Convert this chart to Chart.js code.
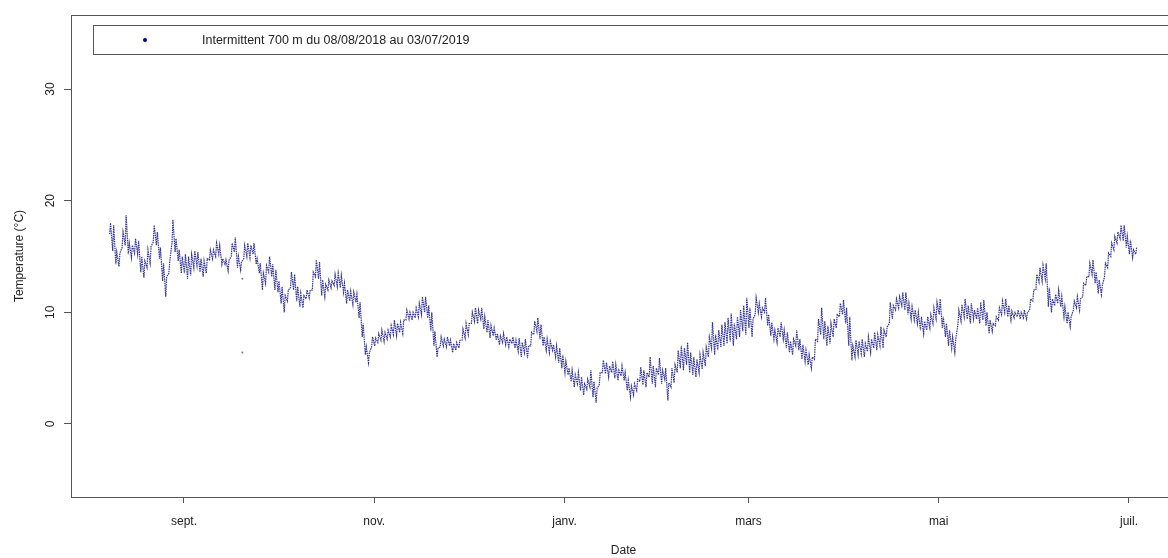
<!DOCTYPE html>
<html>
<head>
<meta charset="utf-8">
<script src="https://cdn.jsdelivr.net/npm/chart.js@4.4.1/dist/chart.umd.min.js"></script>
<style>
  html, body { margin: 0; padding: 0; background: #fff; overflow: hidden; }
  #cadre { width: 1168px; height: 558px; overflow: hidden; }
</style>
</head>
<body>
<div id="cadre"><canvas id="graficoTemp" width="1186" height="558"></canvas></div>
<script>
// releves : min puis max de chaque jour (°C)
const aout2018 = [17.0,18.0, 15.5,17.8, 14.3,15.4, 14.1,15.3, 15.8,17.2, 16.0,18.7, 15.2,16.2, 14.9,16.0, 15.3,16.6, 15.2,16.4, 13.6,15.0, 13.1,14.6, 14.0,15.6, 14.4,15.9, 16.3,17.8, 16.0,17.2, 14.8,15.8, 12.8,14.4, 11.4,13.2, 13.5,14.6, 16.2,18.3, 15.4,16.6, 14.6,15.6, 13.5,15.0]
const sept2018 = [13.5,15.2, 13.0,15.0, 13.3,15.2, 14.0,15.5, 14.2,15.4, 13.6,14.8, 13.2,14.6, 13.5,14.8, 14.7,15.6, 14.8,15.6, 15.0,16.2, 15.2,16.0, 14.3,14.8, 14.3,14.7, 13.7,14.7, 15.0,16.2, 15.4,16.7, 14.0,15.0, 13.8,14.5, 14.8,16.0, 15.0,16.2, 14.9,16.0, 15.2,16.2, 14.3,14.8, 13.5,14.4, 12.0,13.5, 12.6,14.2, 13.6,15.0, 13.2,14.3, 12.0,13.8]
const oct2018 = [11.8,12.8, 10.8,12.3, 10.0,11.5, 11.0,12.0, 12.2,13.6, 12.0,13.4, 11.0,12.3, 10.5,11.7, 10.4,11.5, 11.2,12.0, 11.3,12.0, 12.0,13.6, 13.2,14.7, 13.0,14.5, 11.5,12.9, 11.4,12.5, 12.0,12.9, 12.2,12.8, 12.4,13.4, 12.3,13.5, 12.2,13.3, 11.8,12.6, 10.8,12.0, 11.0,11.9, 10.7,11.8, 10.9,11.6, 9.5,10.9, 7.8,9.0, 6.2,6.9, 5.5,6.4, 6.9,7.8]
const nov2018 = [7.0,7.7, 7.3,8.1, 7.5,8.4, 7.4,8.2, 7.6,8.4, 7.8,8.8, 8.0,9.3, 7.9,9.0, 8.2,9.1, 8.1,9.3, 9.3,10.2, 9.4,10.0, 9.3,10.0, 9.5,10.4, 9.6,10.8, 9.8,11.4, 10.0,11.4, 9.5,10.6, 8.3,10.0, 7.0,8.3, 6.0,6.8, 6.9,7.8, 7.0,7.6, 6.9,7.8, 7.0,7.5, 6.4,7.2, 6.6,7.3, 6.8,7.5, 7.5,8.5, 7.7,9.0]
const dec2018 = [8.0,9.0, 9.0,10.0, 9.2,10.4, 9.0,10.2, 9.4,10.4, 8.5,9.6, 8.2,9.3, 7.7,8.8, 7.9,8.6, 7.5,8.1, 7.1,7.9, 7.3,8.1, 7.1,7.8, 6.9,7.6, 7.2,7.8, 6.8,7.5, 6.5,7.7, 6.0,7.3, 6.4,7.6, 5.9,7.0, 7.0,8.2, 8.0,9.2, 8.3,9.5, 7.6,8.9, 7.0,7.8, 6.6,7.6, 6.4,7.4, 6.6,7.1, 6.0,7.0, 5.5,6.8, 5.0,6.2]
const janv2019 = [4.6,5.6, 4.4,5.0, 3.8,4.8, 3.3,4.4, 3.6,4.6, 3.0,4.2, 2.6,3.6, 3.1,4.0, 3.3,4.8, 2.4,3.8, 1.9,3.2, 3.5,4.6, 4.6,5.7, 4.5,5.5, 4.2,5.2, 4.6,5.6, 4.1,5.3, 3.9,4.8, 4.3,5.2, 3.9,4.6, 3.0,3.9, 2.4,3.4, 2.6,3.6, 3.0,4.0, 3.8,5.1, 3.5,4.8, 3.3,4.6, 4.2,6.0, 3.6,5.2, 3.3,5.0, 4.4,5.9]
const fev2019 = [3.6,4.8, 4.0,5.0, 2.1,3.7, 3.3,5.0, 3.7,5.3, 4.6,6.6, 5.0,7.0, 4.8,6.8, 5.3,7.3, 4.6,6.4, 4.4,6.0, 4.2,5.8, 4.6,6.2, 4.9,6.4, 5.2,6.9, 6.0,7.8, 6.8,9.1, 6.2,8.0, 6.6,8.4, 6.9,8.9, 7.0,9.1, 7.2,9.5, 7.4,9.9, 7.0,9.0, 7.6,9.6, 7.8,10.2, 8.3,10.6, 8.0,11.3]
const mars2019 = [8.6,10.4, 7.8,9.4, 9.8,11.3, 10.0,10.8, 9.6,10.4, 10.0,11.3, 8.8,9.8, 7.9,9.1, 7.6,8.4, 7.3,8.6, 7.8,9.1, 7.6,8.4, 6.8,8.2, 6.4,7.4, 6.2,7.6, 7.0,8.4, 6.6,7.6, 5.8,7.1, 5.6,6.6, 5.3,6.2, 5.0,6.0, 5.8,7.6, 7.4,9.4, 8.0,10.4, 7.6,9.2, 7.0,8.8, 7.2,9.0, 7.8,9.4, 8.6,9.8, 9.6,10.8, 9.8,11.1]
const avr2019 = [9.0,10.4, 7.0,9.6, 5.7,7.0, 6.0,7.5, 6.2,7.4, 6.3,7.6, 6.0,7.2, 6.5,7.8, 6.4,7.6, 6.8,8.2, 6.6,8.0, 7.0,8.7, 6.8,8.4, 7.8,8.7, 9.0,10.9, 9.4,10.6, 10.2,11.2, 10.4,11.4, 10.6,11.8, 10.2,11.8, 9.8,10.8, 9.4,10.5, 9.3,10.2, 9.0,10.0, 8.4,9.6, 8.1,9.2, 8.4,9.6, 8.6,9.8, 9.0,10.4, 9.4,10.9]
const mai2019 = [9.8,11.2, 8.6,9.6, 7.8,9.0, 7.0,8.4, 6.8,7.8, 6.4,7.6, 8.9,10.2, 9.2,10.7, 9.6,11.2, 9.4,10.6, 9.0,10.8, 9.4,10.2, 9.4,10.4, 9.0,10.9, 9.3,11.1, 8.8,10.0, 8.1,9.3, 8.3,9.0, 8.8,9.6, 9.3,10.4, 9.8,11.0, 10.0,11.2, 9.6,10.6, 9.3,10.1, 9.5,10.0, 9.6,10.2, 9.4,10.0, 9.5,10.2, 9.4,10.0, 10.2,11.2, 11.0,12.0]
const juin2019 = [12.0,13.4, 12.7,14.0, 12.8,14.2, 13.0,14.4, 10.5,12.2, 10.0,11.2, 10.6,11.6, 10.8,12.0, 10.5,11.4, 9.6,10.5, 9.0,10.0, 8.7,9.6, 10.2,11.0, 10.4,11.4, 10.2,11.2, 11.4,12.6, 12.4,13.2, 13.2,14.4, 13.4,14.7, 12.6,13.6, 11.7,12.9, 11.6,12.4, 13.2,14.4, 14.0,15.3, 15.0,16.2, 15.6,16.8, 16.2,17.2, 16.6,17.8, 16.4,17.8, 15.8,16.8]
const juil2019 = [15.2,16.5, 14.9,15.6, 15.2,15.8]

const debutSerie = '2018-08-08'
const debutsMois = ['2018-08-08', '2018-09-01', '2018-10-01', '2018-11-01', '2018-12-01', '2019-01-01',
  '2019-02-01', '2019-03-01', '2019-04-01', '2019-05-01', '2019-06-01', '2019-07-01']
const releves = [aout2018, sept2018, oct2018, nov2018, dec2018, janv2019, fev2019, mars2019, avr2019, mai2019, juin2019, juil2019]

// deux points isoles visibles vers le 19 septembre
const datesIsoles = ['2018-09-19', '2018-09-19']
const valeursIsoles = [13.0, 6.4]

// axes
const datesTicks = ['2018-09-01', '2018-11-01', '2019-01-01', '2019-03-01', '2019-05-01', '2019-07-01']
const etiquettesMois = ['sept.', 'nov.', 'janv.', 'mars', 'mai', 'juil.']
const ticksY = [0, 10, 20, 30]
const legende = 'Intermittent 700 m du 08/08/2018 au 03/07/2019'

function jour(dateTexte) {
  return (Date.parse(dateTexte) - Date.parse(debutSerie)) / 86400000
}

var points = []
releves.forEach(function(mois, k) {
  var j0 = jour(debutsMois[k])
  for (var i = 0; i < mois.length; i++) {
    points.push({ x: j0 + Math.floor(i / 2) + (i % 2 ? 0.45 : 0.15), y: mois[i] })
  }
})

var isoles = datesIsoles.map(function(d, i) {
  return { x: jour(d) + 0.7, y: valeursIsoles[i] }
})

const police = '"Liberation Sans", Arial, sans-serif'
const gris = '#555555'

// cadre du graphique + legende a la maniere de R
const cadreR = {
  id: 'cadreR',
  afterDraw(chart) {
    const ctx = chart.ctx
    const a = chart.chartArea
    ctx.save()
    ctx.strokeStyle = gris
    ctx.lineWidth = 1
    ctx.strokeRect(Math.round(a.left) + 0.5, Math.round(a.top) + 0.5, Math.round(a.right - a.left), Math.round(a.bottom - a.top))

    ctx.strokeRect(93.5, 25.5, 1200, 29)
    ctx.fillStyle = '#00008b'
    ctx.beginPath()
    ctx.arc(145, 40, 2, 0, Math.PI * 2)
    ctx.fill()
    ctx.fillStyle = '#222'
    ctx.font = '12.5px ' + police
    ctx.textBaseline = 'middle'
    ctx.textAlign = 'left'
    ctx.fillText(legende, 202, 41)
    ctx.restore()
  }
}

const ctx = document.getElementById('graficoTemp')
new Chart(ctx, {
  type: 'line',
  data: {
    datasets: [{
      data: points,
      borderColor: 'rgba(30, 30, 140, 0.9)',
      borderWidth: 1.2,
      borderDash: [1.5, 0.8],
      pointRadius: 0,
      tension: 0
    }, {
      data: isoles,
      showLine: false,
      pointRadius: 1,
      pointBackgroundColor: 'rgba(25, 25, 135, 0.6)',
      pointBorderWidth: 0
    }]
  },
  options: {
    responsive: false,
    animation: false,
    devicePixelRatio: 1,
    layout: { padding: { left: 0, top: 15, right: 10, bottom: 0 } },
    plugins: {
      legend: { display: false },
      tooltip: { enabled: false }
    },
    scales: {
      x: {
        type: 'linear',
        min: -12.23,
        max: 342.07,
        afterBuildTicks: function(scale) {
          scale.ticks = datesTicks.map(function(d) { return { value: jour(d) } })
        },
        afterFit: function(scale) { scale.height = 61 },
        ticks: {
          autoSkip: false,
          maxRotation: 0,
          padding: 11,
          color: '#222',
          font: { family: police, size: 12 },
          callback: function(value, index) { return etiquettesMois[index] }
        },
        grid: { drawOnChartArea: false, tickLength: 6, color: gris },
        border: { display: false },
        title: { display: true, text: 'Date', color: '#222', font: { family: police, size: 12 }, padding: { top: 0, bottom: 0 } }
      },
      y: {
        min: -6.54,
        max: 36.63,
        afterBuildTicks: function(scale) {
          scale.ticks = ticksY.map(function(v) { return { value: v } })
        },
        afterFit: function(scale) { scale.width = 71 },
        ticks: {
          minRotation: 90,
          maxRotation: 90,
          crossAlign: 'center',
          padding: 7,
          color: '#222',
          font: { family: police, size: 12 }
        },
        grid: { drawOnChartArea: false, tickLength: 7, color: gris },
        border: { display: false },
        title: { display: true, text: 'Temperature (°C)', color: '#222', font: { family: police, size: 12 }, padding: { top: 12, bottom: 0 } }
      }
    }
  },
  plugins: [cadreR]
})
</script>
</body>
</html>
